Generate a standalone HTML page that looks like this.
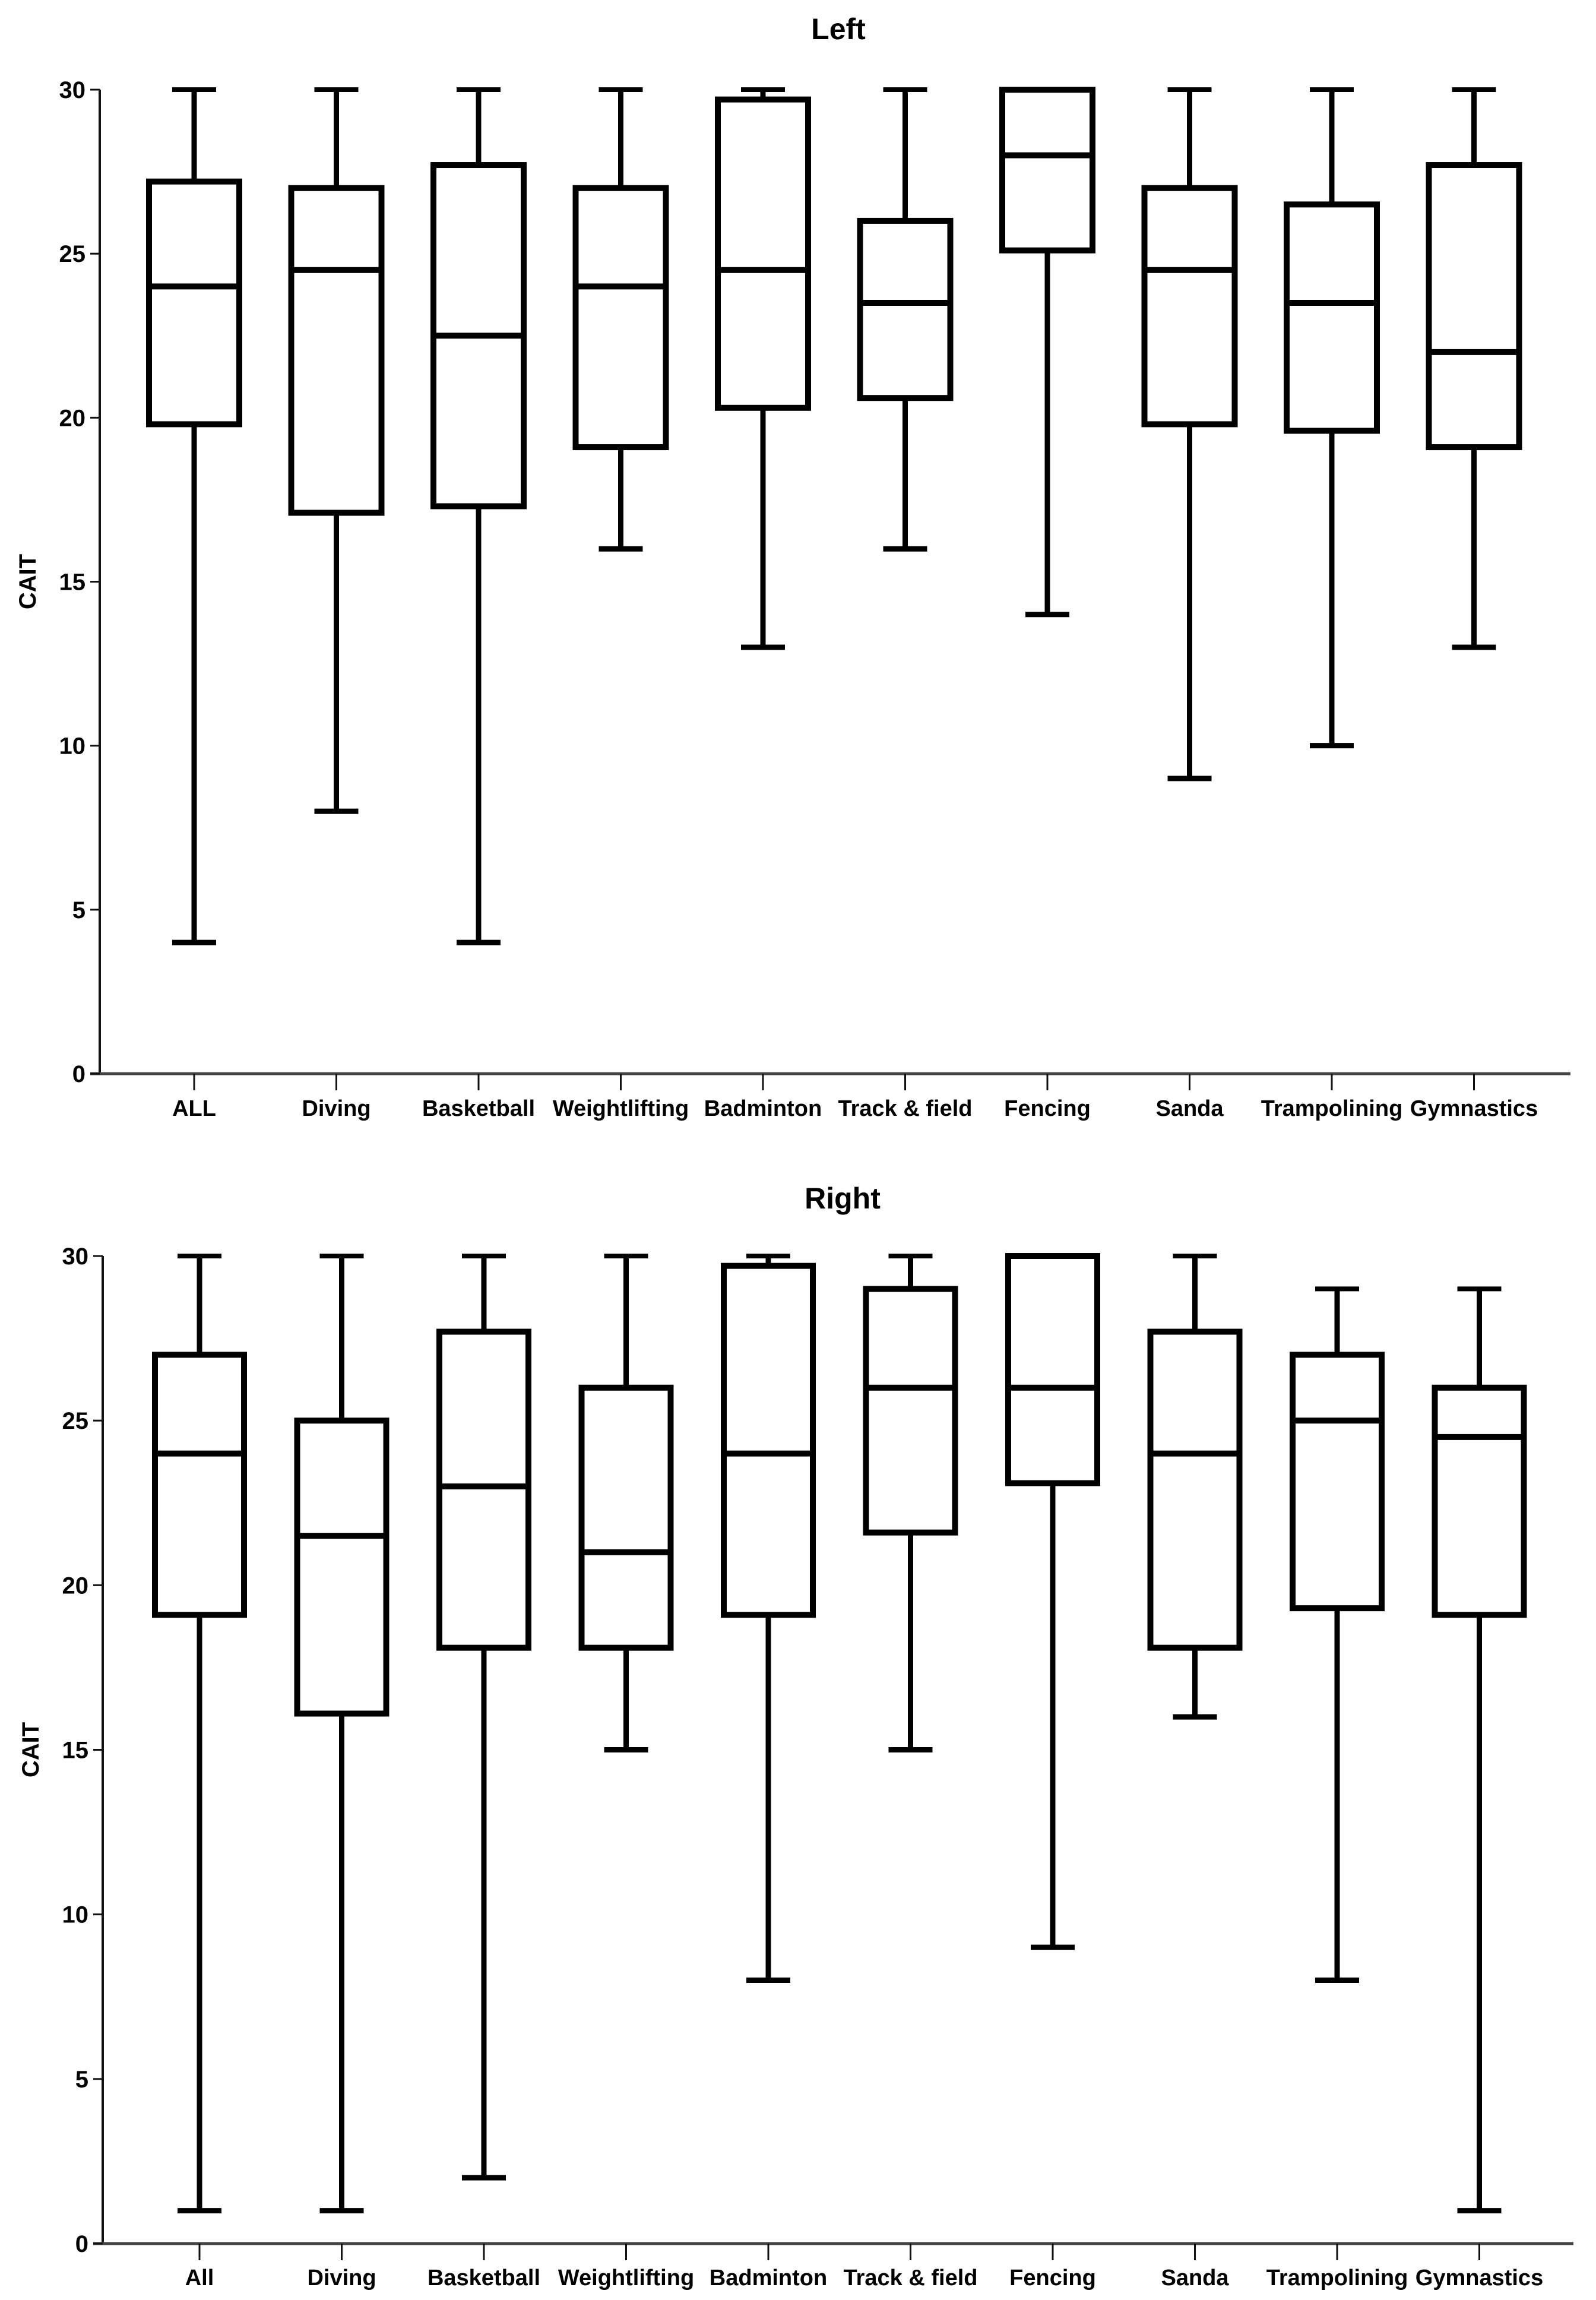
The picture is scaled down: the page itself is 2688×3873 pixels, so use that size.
<!DOCTYPE html>
<html><head><meta charset="utf-8">
<style>
html,body{margin:0;padding:0;background:#fff;}
svg{display:block;font-family:"Liberation Sans Narrow","Liberation Sans",sans-serif;font-weight:bold;}
</style></head>
<body>
<svg id="chart" width="2688" height="3873" viewBox="0 0 2688 3873" xmlns="http://www.w3.org/2000/svg">
<g id="top"></g>
<g id="bottom"></g>
</svg>
<script>
const catsLeft = ["ALL","Diving","Basketball","Weightlifting","Badminton","Track & field","Fencing","Sanda","Trampolining","Gymnastics"];
const catsRight = ["All","Diving","Basketball","Weightlifting","Badminton","Track & field","Fencing","Sanda","Trampolining","Gymnastics"];
const leftMin = [4,8,4,16,13,16,14,9,10,13];
const leftQ1 = [19.8,17.1,17.3,19.1,20.3,20.6,25.1,19.8,19.6,19.1];
const leftMed = [24,24.5,22.5,24,24.5,23.5,28,24.5,23.5,22];
const leftQ3 = [27.2,27,27.7,27,29.7,26,30,27,26.5,27.7];
const leftMax = [30,30,30,30,30,30,30,30,30,30];
const rightMin = [1,1,2,15,8,15,9,16,8,1];
const rightQ1 = [19.1,16.1,18.1,18.1,19.1,21.6,23.1,18.1,19.3,19.1];
const rightMed = [24,21.5,23,21,24,26,26,24,25,24.5];
const rightQ3 = [27,25,27.7,26,29.7,29,30,27.7,27,26];
const rightMax = [30,30,30,30,30,30,30,30,29,29];
const yTicks = [0,5,10,15,20,25,30];

const NS="http://www.w3.org/2000/svg";
function mk(parent,tag,attrs,text){
  const e=document.createElementNS(NS,tag);
  for(const k in attrs) e.setAttribute(k,attrs[k]);
  if(text!==undefined) e.textContent=text;
  parent.appendChild(e); return e;
}
function panel(g,cfg){
  const yS=v=>cfg.y0+(cfg.y30-cfg.y0)*v/30;
  const xS=i=>cfg.x0+cfg.step*i;
  let t=mk(g,'text',{x:cfg.titleX,y:cfg.titleY,'font-size':50,'text-anchor':'middle','font-family':'"Liberation Sans",sans-serif'},cfg.title);
  
  
  let yl=mk(g,'text',{x:0,y:0,'font-size':40,'text-anchor':'middle','font-family':'"Liberation Sans",sans-serif',transform:`translate(${cfg.axX-108},${(cfg.y0+cfg.y30)/2}) rotate(-90)`},'CAIT');
  
  
  let ya=mk(g,'line',{x1:cfg.axX,y1:yS(30),x2:cfg.axX,y2:yS(0),stroke:'#111','stroke-width':4});
  
  
  let xa=mk(g,'line',{x1:cfg.axX-16,y1:yS(0),x2:cfg.axEnd,y2:yS(0),stroke:'#444','stroke-width':5});
  
  
  yTicks.forEach(v=>{
    let tk=mk(g,'line',{x1:cfg.axX-16,y1:yS(v),x2:cfg.axX,y2:yS(v),stroke:'#111','stroke-width':3});
    
    
    let tl=mk(g,'text',{x:cfg.axX-24,y:yS(v)+14,'font-size':40,'text-anchor':'end'},String(v));
    
    
  });
  cfg.cats.forEach((c,i)=>{
    const x=xS(i);
    let tk=mk(g,'line',{x1:x,y1:yS(0),x2:x,y2:yS(0)+28,stroke:'#111','stroke-width':3});
    
    
    let tl=mk(g,'text',{x:x,y:cfg.labY,'font-size':38,'text-anchor':'middle'},c);
    
    
    const bg=mk(g,'g',{});
    
    
    const bw=cfg.bw, cw=74, sw=9;
    mk(bg,'line',{x1:x,y1:yS(cfg.max[i]),x2:x,y2:yS(cfg.q3[i]),stroke:'#000','stroke-width':sw});
    mk(bg,'line',{x1:x,y1:yS(cfg.q1[i]),x2:x,y2:yS(cfg.min[i]),stroke:'#000','stroke-width':sw});
    mk(bg,'line',{x1:x-cw/2,y1:yS(cfg.max[i]),x2:x+cw/2,y2:yS(cfg.max[i]),stroke:'#000','stroke-width':8});
    mk(bg,'line',{x1:x-cw/2,y1:yS(cfg.min[i]),x2:x+cw/2,y2:yS(cfg.min[i]),stroke:'#000','stroke-width':9});
    mk(bg,'rect',{x:x-bw/2,y:yS(cfg.q3[i]),width:bw,height:yS(cfg.q1[i])-yS(cfg.q3[i]),fill:'#fff',stroke:'#000','stroke-width':10});
    mk(bg,'line',{x1:x-bw/2,y1:yS(cfg.med[i]),x2:x+bw/2,y2:yS(cfg.med[i]),stroke:'#000','stroke-width':10});
  });
}
panel(document.getElementById('top'),{title:'Left',titleX:1412,titleY:66,cats:catsLeft,min:leftMin,q1:leftQ1,med:leftMed,q3:leftQ3,max:leftMax,
  y0:1808,y30:151,axX:168,axEnd:2645,x0:327,step:239.5,bw:152,labY:1879});
panel(document.getElementById('bottom'),{title:'Right',titleX:1419,titleY:2035,cats:catsRight,min:rightMin,q1:rightQ1,med:rightMed,q3:rightQ3,max:rightMax,
  y0:3778,y30:2115,axX:173,axEnd:2650,x0:336,step:239.5,bw:150,labY:3848});
</script>
</body></html>
